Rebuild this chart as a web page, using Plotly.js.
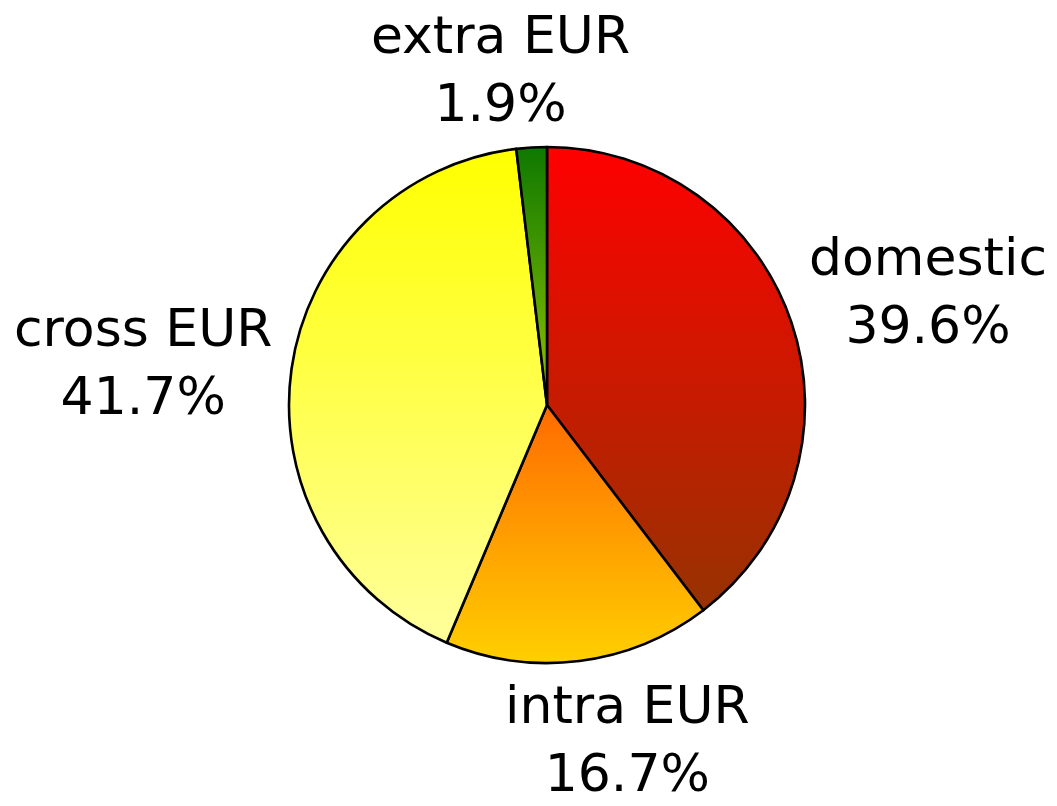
<!DOCTYPE html>
<html>
<head>
<meta charset="utf-8">
<script src="https://cdn.plot.ly/plotly-3.0.1.min.js"></script>
<style>
  html, body { margin: 0; padding: 0; background: #ffffff; }
  #chart { width: 1057px; height: 806px; }
</style>
</head>
<body>
<div id="chart"></div>
<script>
// ---- data ----
const labels = ["domestic", "intra EUR", "cross EUR", "extra EUR"];
const values = [39.6, 16.7, 41.7, 1.9];
// fallback solid colours and vertical gradient stops (top, bottom)
const baseColors = ["#d01800", "#ffa000", "#ffff60", "#409010"];
const gradTop    = ["#ff0000", "#ff6a00", "#ffff00", "#0f7800"];
const gradBottom = ["#963200", "#ffd000", "#ffff9c", "#90c400"];

// label placement (pixel centres in the 1057x806 figure)
const labelPos = [[928, 291], [627, 739], [143, 362], [500, 69]];

const W = 1057, H = 806;
const cx = 547, cy = 405, R = 258;

const trace = {
  type: "pie",
  labels: labels,
  values: values,
  sort: false,
  direction: "clockwise",
  rotation: 0,
  textinfo: "none",
  hoverinfo: "none",
  marker: { colors: baseColors, line: { color: "#000000", width: 2.6 } },
  domain: {
    x: [(cx - R) / W, (cx + R) / W],
    y: [1 - (cy + R) / H, 1 - (cy - R) / H]
  },
  showlegend: false
};

const total = values.reduce((a, b) => a + b, 0);
const annotations = labels.map((lab, i) => ({
  xref: "paper", yref: "paper",
  x: labelPos[i][0] / W,
  y: 1 - labelPos[i][1] / H,
  xanchor: "center", yanchor: "middle",
  showarrow: false,
  align: "center",
  text: lab + "<br>" + (values[i] / total * 100).toFixed(1) + "%",
  font: { family: "DejaVu Sans, Verdana, sans-serif", size: 52, color: "#000000" }
}));

const layout = {
  width: W, height: H,
  margin: { l: 0, r: 0, t: 0, b: 0, pad: 0 },
  paper_bgcolor: "#ffffff",
  plot_bgcolor: "#ffffff",
  showlegend: false,
  annotations: annotations
};

function applyGradients() {
  const gd = document.getElementById("chart");
  const svg = gd.querySelector("svg.main-svg");
  if (!svg) return;
  let defs = svg.querySelector("defs");
  if (!defs) {
    defs = document.createElementNS("http://www.w3.org/2000/svg", "defs");
    svg.insertBefore(defs, svg.firstChild);
  }
  const NS = "http://www.w3.org/2000/svg";
  labels.forEach((_, i) => {
    const g = document.createElementNS(NS, "linearGradient");
    g.setAttribute("id", "sliceGrad" + i);
    g.setAttribute("x1", "0"); g.setAttribute("y1", "0");
    g.setAttribute("x2", "0"); g.setAttribute("y2", "1");
    const s1 = document.createElementNS(NS, "stop");
    s1.setAttribute("offset", "0"); s1.setAttribute("stop-color", gradTop[i]);
    const s2 = document.createElementNS(NS, "stop");
    s2.setAttribute("offset", "1"); s2.setAttribute("stop-color", gradBottom[i]);
    g.appendChild(s1); g.appendChild(s2);
    defs.appendChild(g);
  });
  const paths = gd.querySelectorAll("g.slice path.surface");
  paths.forEach((p, i) => {
    if (i < labels.length) p.style.fill = "url(#sliceGrad" + i + ")";
  });
}

Plotly.newPlot("chart", [trace], layout, { displayModeBar: false, staticPlot: true })
  .then(applyGradients);
</script>
</body>
</html>
